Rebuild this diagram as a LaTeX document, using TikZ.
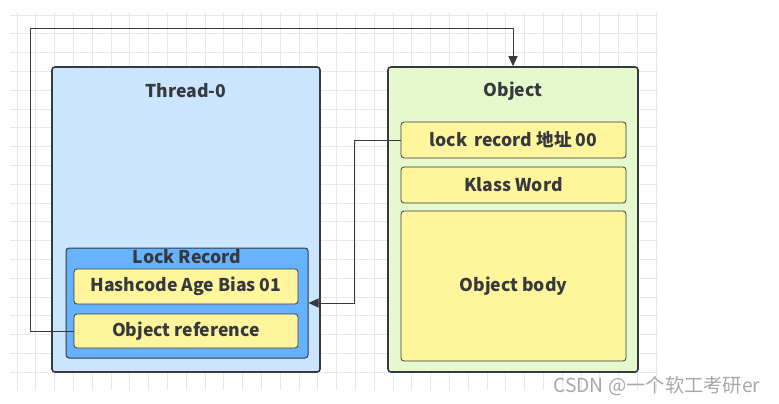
\documentclass[tikz,border=0pt]{standalone}
\usepackage{fontspec}
\setmainfont{Noto Sans CJK SC}
\usetikzlibrary{arrows.meta}

\definecolor{edge}{HTML}{36393D}
\definecolor{threadbg}{HTML}{CCE5FF}
\definecolor{recordbg}{HTML}{66B2FF}
\definecolor{fieldbg}{HTML}{FFF59D}
\definecolor{objectbg}{HTML}{E6F8CD}
\definecolor{gridgray}{HTML}{E8E8E8}
\definecolor{markgray}{HTML}{A8A8A8}

\begin{document}
\begin{tikzpicture}
                \tikzset{x=1pt, y=-1pt}
                \tikzstyle{frame}=[rectangle, draw=edge, line width=1.6pt, rounded corners=3pt, inner sep=0pt]
                \tikzstyle{field}=[rectangle, draw=edge, line width=0.8pt, fill=fieldbg, rounded corners=3pt,
                                   minimum width=224pt, inner sep=0pt, text=edge, font=\bfseries\fontsize{17.6}{20}\selectfont]
                \tikzstyle{title}=[text=edge, font=\bfseries\fontsize{17.6}{20}\selectfont]
                \tikzstyle{link}=[draw=edge, line width=1pt, -{Triangle[length=10pt, width=9pt]}]

                \useasboundingbox (0,0) rectangle (779,404);

                % background grid
                \foreach \i in {0,...,34}
                    \draw[gridgray, line width=0.8pt] (17+18.8*\i, 12) -- (17+18.8*\i, 390);
                \foreach \j in {0,...,19}
                    \draw[gridgray, line width=0.8pt] (10, 15+18.8*\j) -- (658, 15+18.8*\j);

                % thread side
                \draw (186, 219.5)  node[frame, fill=threadbg, minimum width=268pt, minimum height=305pt] (thread) {};
                \draw (186, 91)     node[title]     (threadname)    {Thread-0};
                \draw (187, 303)    node[frame, line width=1pt, fill=recordbg, minimum width=242pt, minimum height=110pt] (record) {};
                \draw (187, 257)    node[title]     (recordname)    {Lock Record};
                \draw (186, 286.5)  node[field, minimum height=35pt]    (hash)      {Hashcode Age Bias 01};
                \draw (186, 331)    node[field, minimum height=34pt]    (objref)    {Object reference};

                % object side
                \draw (513, 219.5)  node[frame, fill=objectbg, minimum width=250pt, minimum height=305pt] (object) {};
                \draw (513, 91)     node[title]     (objectname)    {Object};
                \draw (513.5, 140)  node[field, minimum width=225pt, minimum height=36pt]  (lockaddr)  {lock\, record 地址 00};
                \draw (513.5, 185)  node[field, minimum width=225pt, minimum height=36pt]  (klass)     {Klass Word};
                \draw (513.5, 286)  node[field, minimum width=225pt, minimum height=150pt] (body)      {Object body};

                % connectors
                \coordinate (corner) at (30, 29);
                \coordinate (bend)   at (354, 303);
                \draw [link]        (objref.west) -| (corner) -| (object.north);
                \draw [link]        (lockaddr.west) -| (bend) -- (record.east);

                \draw (764, 386)    node[anchor=east, text=markgray, font=\fontsize{19.3}{22}\selectfont] (mark) {CSDN @一个软工考研er};
            \end{tikzpicture}
\end{document}
